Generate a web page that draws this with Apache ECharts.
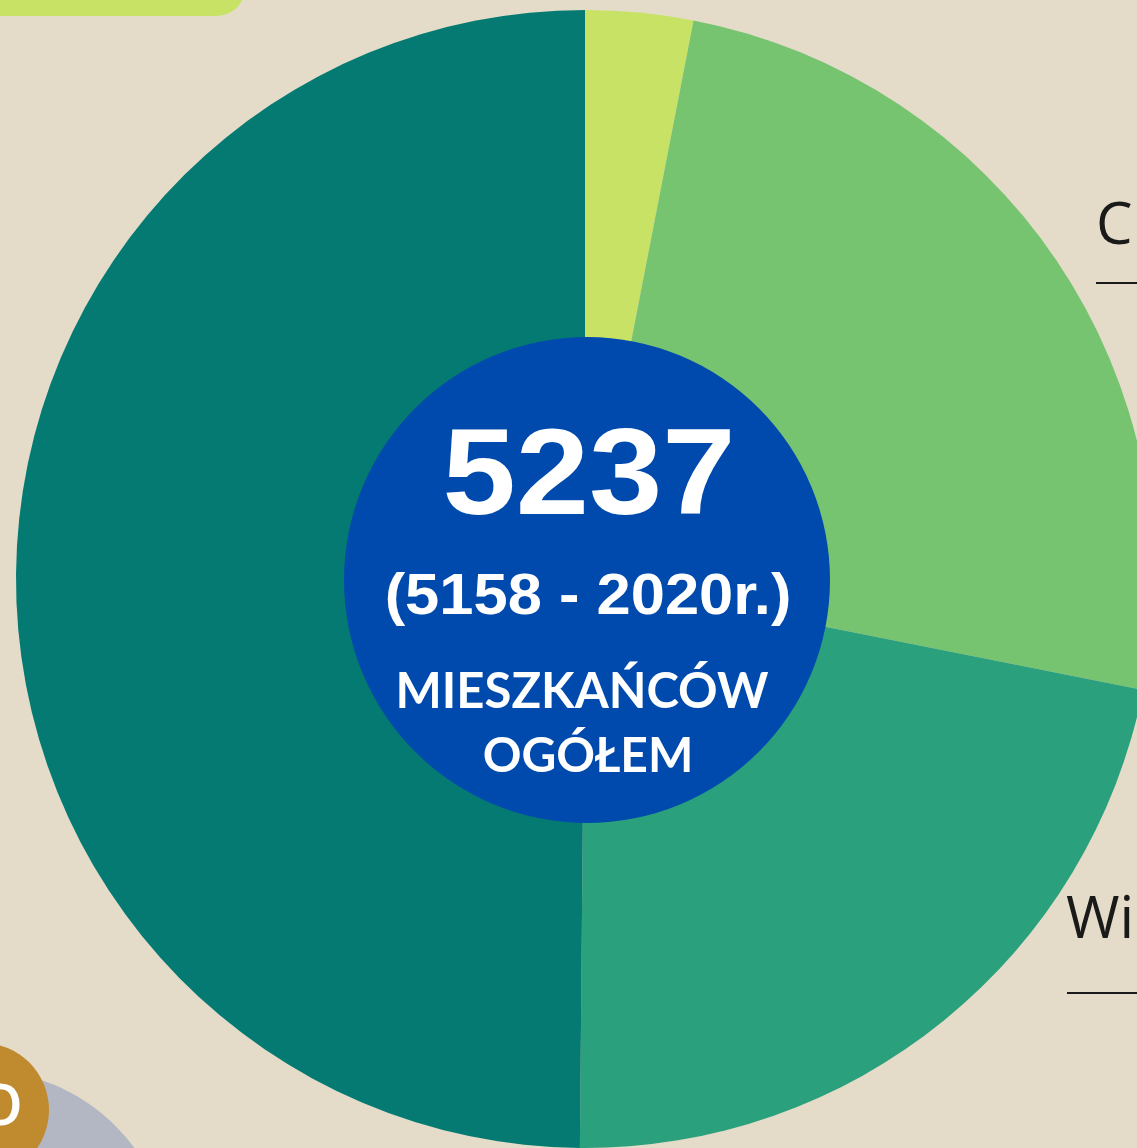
<!DOCTYPE html>
<html>
<head>
<meta charset="utf-8">
<script src="https://cdn.jsdelivr.net/npm/echarts@6/dist/echarts.min.js"></script>
<style>
html,body{margin:0;padding:0;background:#E4DCC9;}
#chart{width:1137px;height:1148px;}
</style>
</head>
<body>
<div id="chart"></div>
<script>
// Data (share of 5237 inhabitants, clockwise from top)
const categories = ['Grupa 1', 'Grupa 2', 'Grupa 3', 'Grupa 4'];
const values = [160, 1313, 1153, 2611];
const colors = ['#C8E266', '#76C470', '#2BA07C', '#047A72'];
const totalText = '5237';
const prevText = '(5158 - 2020r.)';
const captionLines = ['MIESZKAŃCÓW', 'OGÓŁEM'];
const sideLabels = ['C', 'Wi'];

const chart = echarts.init(document.getElementById('chart'), null, {renderer: 'canvas'});
const cx = 585, cy = 579;

chart.setOption({
  backgroundColor: '#E4DCC9',
  animation: false,
  series: [{
    type: 'pie',
    center: [cx, cy],
    radius: [0, 569],
    startAngle: 90,
    clockwise: true,
    label: {show: false},
    labelLine: {show: false},
    emphasis: {disabled: true},
    silent: true,
    data: categories.map((c, i) => ({name: c, value: values[i], itemStyle: {color: colors[i]}}))
  }],
  graphic: [
    {type: 'rect', shape: {x: -40, y: -40, width: 285, height: 56, r: 32}, style: {fill: '#C8E266'}, z: 1},
    {type: 'circle', shape: {cx: -20, cy: 1262, r: 192}, style: {fill: '#B3B7C3'}, z: 1},
    {type: 'circle', shape: {cx: -18, cy: 1110, r: 67}, style: {fill: '#C08A2E'}, z: 2},
    {type: 'text', x: 0, y: 1108, style: {text: 'O', fill: '#ffffff', font: '600 58px "Open Sans"', textAlign: 'center', textVerticalAlign: 'middle'}, z: 3},
    {type: 'circle', shape: {cx: 587, cy: 580, r: 243}, style: {fill: '#004AAD'}, z: 10},
    {type: 'text', x: 589, y: 480, scaleX: 1.08, style: {text: totalText, fill: '#ffffff', font: 'bold 122px "Liberation Sans"', textAlign: 'center', textVerticalAlign: 'middle'}, z: 11},
    {type: 'text', x: 588, y: 598, scaleX: 1.06, style: {text: prevText, fill: '#ffffff', font: 'bold 58px "Liberation Sans"', textAlign: 'center', textVerticalAlign: 'middle'}, z: 11},
    {type: 'text', x: 582, y: 692, style: {text: captionLines[0], fill: '#ffffff', font: 'bold 49px "Lato"', textAlign: 'center', textVerticalAlign: 'middle'}, z: 11},
    {type: 'text', x: 588, y: 757, style: {text: captionLines[1], fill: '#ffffff', font: 'bold 48px "Lato"', textAlign: 'center', textVerticalAlign: 'middle'}, z: 11},
    {type: 'text', x: 1096, y: 227, style: {text: sideLabels[0], fill: '#1a1a1a', font: '400 58px "Open Sans"', textAlign: 'left', textVerticalAlign: 'middle'}, z: 11},
    {type: 'line', shape: {x1: 1096, y1: 283, x2: 1140, y2: 283}, style: {stroke: '#1a1a1a', lineWidth: 2}, z: 11},
    {type: 'text', x: 1066, y: 921, style: {text: sideLabels[1], fill: '#1a1a1a', font: '400 58px "Open Sans"', textAlign: 'left', textVerticalAlign: 'middle'}, z: 11},
    {type: 'line', shape: {x1: 1067, y1: 993, x2: 1140, y2: 993}, style: {stroke: '#1a1a1a', lineWidth: 2}, z: 11}
  ]
});
</script>
</body>
</html>
